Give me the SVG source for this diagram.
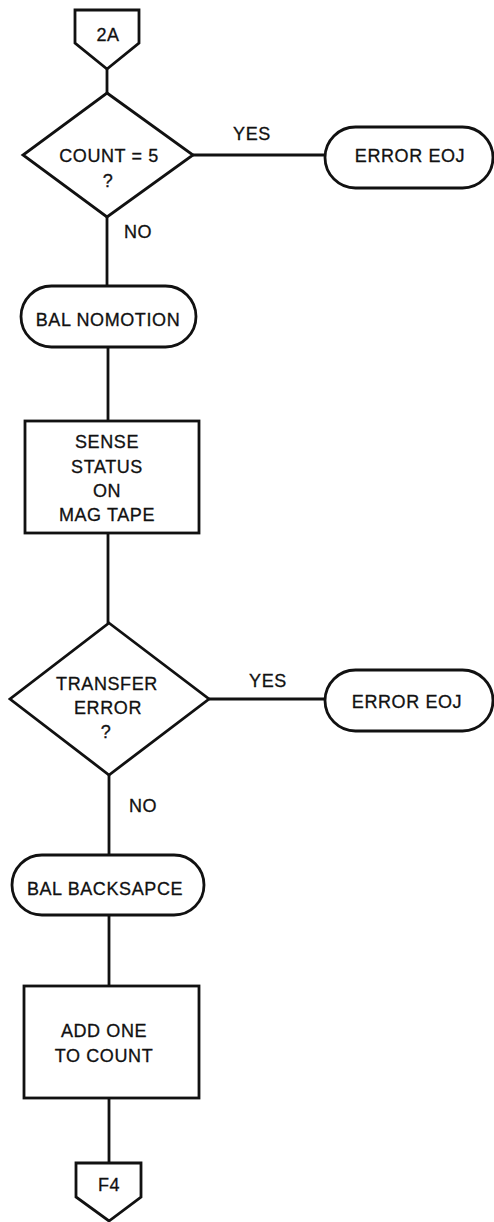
<svg xmlns="http://www.w3.org/2000/svg" width="494" height="1222" viewBox="0 0 494 1222">
  <style>
    .shape { fill: #fff; stroke: #111; stroke-width: 2.8; stroke-linejoin: miter; }
    .line { fill: none; stroke: #111; stroke-width: 2.8; }
    text { font-family: "Liberation Sans", Arial, sans-serif; font-size: 18px; fill: #111; stroke: #111; stroke-width: 0.3; letter-spacing: 0.6px; }
    .c { text-anchor: middle; }
    .small { font-size: 18px; }
  </style>
  <rect width="494" height="1222" fill="#fff"/>

  <!-- flow lines -->
  <g id="connectors">
    <line class="line" x1="107" y1="69" x2="107" y2="93"/>
    <line class="line" x1="193" y1="155" x2="326" y2="155"/>
    <line class="line" x1="107" y1="217" x2="107" y2="286"/>
    <line class="line" x1="108" y1="347" x2="108" y2="421"/>
    <line class="line" x1="108" y1="533" x2="108" y2="623"/>
    <line class="line" x1="209" y1="699" x2="325" y2="699"/>
    <line class="line" x1="109" y1="775" x2="109" y2="855"/>
    <line class="line" x1="109" y1="915" x2="109" y2="986"/>
    <line class="line" x1="109" y1="1098" x2="109" y2="1163"/>
    <text x="252" y="140" class="c">YES</text>
    <text x="124" y="238">NO</text>
    <text x="268" y="687" class="c">YES</text>
    <text x="129" y="812">NO</text>
  </g>

  <!-- entry connector -->
  <g id="conn-2a">
    <path class="shape" d="M75 10 H139 V43 L107 69 L75 43 Z"/>
    <text x="108" y="41" class="c small">2A</text>
  </g>

  <g id="dec-count">
    <path class="shape" d="M107 93 L193 155 L107 217 L23 155 Z"/>
    <text x="109" y="162" class="c">COUNT = 5</text>
    <text x="108" y="187" class="c">?</text>
  </g>

  <g id="eoj-1">
    <rect class="shape" x="325" y="127" width="168" height="61" rx="30.5" ry="30.5"/>
    <text x="410" y="162" class="c">ERROR EOJ</text>
  </g>

  <g id="bal-nomotion">
    <rect class="shape" x="21" y="286" width="175" height="61" rx="30.5" ry="30.5"/>
    <text x="108" y="326" class="c">BAL NOMOTION</text>
  </g>

  <g id="sense-status">
    <rect class="shape" x="25" y="421" width="174" height="112"/>
    <text x="107" y="448" class="c">SENSE</text>
    <text x="107" y="473" class="c">STATUS</text>
    <text x="107" y="497" class="c">ON</text>
    <text x="107" y="521" class="c">MAG TAPE</text>
  </g>

  <g id="dec-transfer">
    <path class="shape" d="M109 623 L209 699 L109 775 L10 699 Z"/>
    <text x="107" y="690" class="c">TRANSFER</text>
    <text x="108" y="714" class="c">ERROR</text>
    <text x="106" y="738" class="c">?</text>
  </g>

  <g id="eoj-2">
    <rect class="shape" x="325" y="670" width="168" height="61" rx="30.5" ry="30.5"/>
    <text x="407" y="708" class="c">ERROR EOJ</text>
  </g>

  <g id="bal-backspace">
    <rect class="shape" x="12" y="855" width="192" height="60" rx="30" ry="30"/>
    <text x="105" y="895" class="c">BAL BACKSAPCE</text>
  </g>

  <g id="add-one">
    <rect class="shape" x="24" y="986" width="175" height="112"/>
    <text x="104" y="1037" class="c">ADD ONE</text>
    <text x="104" y="1062" class="c">TO COUNT</text>
  </g>

  <!-- exit connector -->
  <g id="conn-f4">
    <path class="shape" d="M76 1163 H141 V1197 L109 1221 L76 1197 Z"/>
    <text x="109" y="1191" class="c small">F4</text>
  </g>
</svg>
